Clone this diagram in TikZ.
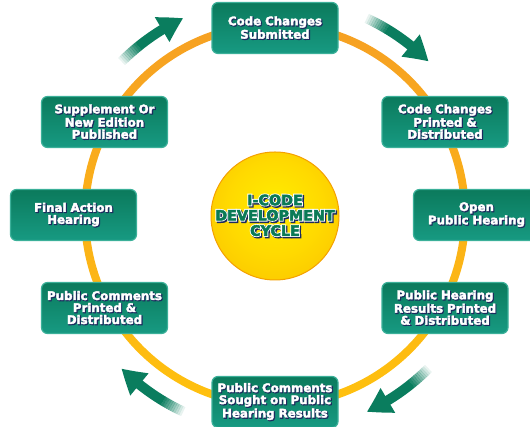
\documentclass[tikz,border=0pt]{standalone}
\usepackage{fontspec}
\setmainfont{DejaVu Sans}
\usetikzlibrary{arrows.meta,bending,calc}

\definecolor{boxtop}{HTML}{0B7A5C}
\definecolor{boxbot}{HTML}{179A82}
\definecolor{boxrim}{HTML}{3BB099}
\definecolor{navy}{HTML}{1C2B5E}
\definecolor{cyclegreen}{HTML}{0A7A56}
\definecolor{arrowgreen}{HTML}{0A7D5E}
\definecolor{ringtop}{HTML}{F6A023}
\definecolor{ringbot}{HTML}{FFC10E}
\definecolor{sunin}{HTML}{FFEC00}
\definecolor{sunmid}{HTML}{FFDA00}
\definecolor{sunedge}{HTML}{FBC400}
\definecolor{sunout}{HTML}{F4A000}

\pgfdeclareradialshading{sun}{\pgfpoint{0bp}{5bp}}{color(0bp)=(sunin); color(18bp)=(sunmid); color(34bp)=(sunedge); color(45bp)=(sunout); color(50bp)=(sunout)}

% white text with a dark shadow
\newcommand\shd[1]{\leavevmode
  \rlap{\kern0.9pt\raisebox{-0.9pt}{\textcolor{navy}{\special{pdf:literal direct 2 Tr 0.9 w}#1\special{pdf:literal direct 0 Tr}}}}%
  \textcolor{white}{\special{pdf:literal direct 2 Tr 0.35 w}#1\special{pdf:literal direct 0 Tr}}}
% green text with white rim
\newcommand\glow[1]{\leavevmode
  \rlap{\kern1.4pt\raisebox{-1.4pt}{\textcolor{navy}{\special{pdf:literal direct 2 Tr 2.2 w}#1\special{pdf:literal direct 0 Tr}}}}%
  \rlap{\textcolor{white}{\special{pdf:literal direct 1 Tr 2.2 w}#1\special{pdf:literal direct 0 Tr}}}%
  \textcolor{cyclegreen}{\special{pdf:literal direct 2 Tr 0.5 w}#1\special{pdf:literal direct 0 Tr}}}

\tikzset{
  stage/.style={rounded corners=6pt, draw=boxrim, line width=1.2pt,
    top color=boxtop, bottom color=boxbot,
    minimum width=126pt, minimum height=51pt, text width=124pt,
    align=center, inner sep=0pt, text=white,
    font=\bfseries\fontsize{11.8}{12}\selectfont},
  hub/.style={circle, shade, shading=sun, draw=sunout, line width=1pt,
    minimum size=128pt, inner sep=0pt, align=center,
    font=\bfseries\fontsize{14.3}{15.3}\selectfont},
  turn/.style={arrowgreen, line width=10pt}
}

\begin{document}
\begin{tikzpicture}[x=1pt,y=1pt]
        \useasboundingbox (0,0) rectangle (530,427);
        \coordinate (ring) at (275,212);

        %%%%%%%% Anello %%%%%%%%
        \shade[top color=ringtop, bottom color=ringbot, even odd rule]
            (ring) circle[radius=194] (ring) circle[radius=186];

        %%%%%%%% Frecce %%%%%%%%
        \foreach \s in {135,65,-45,-115} {
            \foreach \i [evaluate=\i as \op using (\i+1)/11,
                         evaluate=\i as \a using \s-\i*0.6] in {0,...,9}
                \draw[turn, opacity=\op] ($(ring)+(\a:217)$)
                    arc[start angle=\a, end angle=\a-0.65, radius=217];
            \draw[turn, -{Triangle[width=27pt,length=24pt,bend]}]
                ($(ring)+(\s-6:217)$) arc[start angle=\s-6, end angle=\s-20, radius=217];
        }

        %%%%%%%% Centro %%%%%%%%
        \node[hub] (hubc) at (275,211) {\glow{I-CODE}\\\glow{DEVELOPMENT}\\\glow{CYCLE}};

        %%%%%%%% Blocchi %%%%%%%%
        \node[stage] (submit)     at (275,399)   {\shd{Code Changes}\\\shd{Submitted}};
        \node[stage] (printed)    at (445,305)   {\shd{Code Changes}\\\shd{Printed \&}\\\shd{Distributed}};
        \node[stage] (hearing)    at (476.5,212) {\shd{Open}\\\shd{Public Hearing}};
        \node[stage] (results)    at (445,119)   {\shd{Public Hearing}\\\shd{Results Printed}\\\shd{\& Distributed}};
        \node[stage] (sought)     at (275,25)    {\shd{Public Comments}\\\shd{Sought on Public}\\\shd{Hearing Results}};
        \node[stage] (comments)   at (104.5,119) {\shd{Public Comments}\\\shd{Printed \&}\\\shd{Distributed}};
        \node[stage] (final)      at (73.5,212)  {\shd{Final Action}\\\shd{Hearing}};
        \node[stage] (supplement) at (104.5,305) {\shd{Supplement Or}\\\shd{New Edition}\\\shd{Published}};

    \end{tikzpicture}
\end{document}
